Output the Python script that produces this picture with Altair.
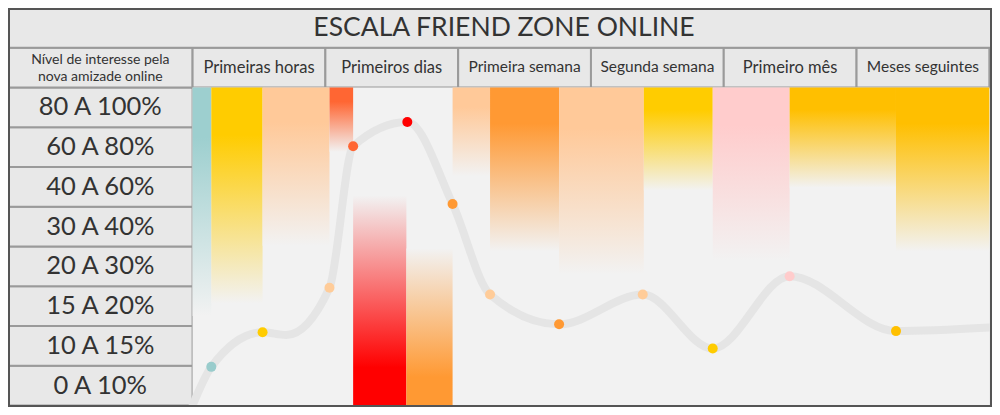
import altair as alt
import pandas as pd

# ---------------- data ----------------
TITLE = "ESCALA FRIEND ZONE ONLINE"
ROW_HEADER = "Nível de interesse pela\nnova amizade online"
PERIODS = ["Primeiras horas", "Primeiros dias", "Primeira semana",
           "Segunda semana", "Primeiro mês", "Meses seguintes"]
# interest levels, bottom row first
LEVELS = ["0 A 10%", "10 A 15%", "15 A 20%", "20 A 30%",
          "30 A 40%", "40 A 60%", "60 A 80%", "80 A 100%"]

# gradient bands (x in period units, reach in level-row units)
BAND_START = [0.0, 0.141, 0.527, 1.031, 1.209, 1.61, 1.958, 2.24, 2.76, 3.398, 3.917, 4.496, 5.297]
BAND_END = [0.141, 0.527, 1.031, 1.209, 1.61, 1.958, 2.24, 2.76, 3.398, 3.917, 4.496, 5.297, 6.0]
BAND_REACH = [2.25, 2.57, 4.02, 6.38, 5.28, 3.95, 5.77, 3.88, 3.30, 5.41, 3.64, 5.48, 3.88]
BAND_FROM = ["top", "top", "top", "top", "bottom", "bottom", "top",
             "top", "top", "top", "top", "top", "top"]
BAND_COLOR = ["#9dcfcf", "#ffcc00", "#ffc999", "#ff6633", "#ff0000", "#ff9933", "#ffc999",
              "#ff9933", "#ffc999", "#ffcc00", "#ffcccc", "#ffbf00", "#ffbf00"]

# dots on the curve
DOT_X = [0.141, 0.527, 1.031, 1.209, 1.617, 1.958, 2.24, 2.76, 3.39, 3.917, 4.496, 5.297]
DOT_Y = [0.97, 1.84, 2.96, 6.52, 7.13, 5.07, 2.79, 2.04, 2.79, 1.43, 3.25, 1.87]
DOT_COLOR = ["#99cccc", "#ffcc00", "#ffcc99", "#ff6633", "#ff0000", "#ff9933",
             "#ffcc99", "#ff9933", "#ffcc99", "#ffcc00", "#ffcccc", "#ffc000"]

# the grey curve
CURVE_X = [0.0, 0.141, 0.527, 0.705, 1.031, 1.209, 1.617, 1.958, 2.24, 2.76, 3.39, 3.917, 4.496, 5.297, 6.0]
CURVE_Y = [0.0, 0.97, 1.84, 1.77, 2.96, 6.52, 7.13, 5.07, 2.79, 2.04, 2.79, 1.43, 3.25, 1.87, 1.96]

# ---------------- layout ----------------
X_MIN, X_MAX = -1.39, 6.02
Y_MIN, Y_MAX = -0.04, 10.0
HEADER_TOP = 9.0
W, H = 984, 399
BG_PLOT = "#f2f2f2"
BG_CELL = "#e8e8e8"
GRID = "#9a9a9a"
TXT = "#333333"
FONT = "Lato"
LONG_HEADERS = [2, 3, 5]  # header cells set in a slightly smaller size

xs = alt.Scale(domain=[X_MIN, X_MAX], nice=False, zero=False)
ys = alt.Scale(domain=[Y_MIN, Y_MAX], nice=False, zero=False)


def X(f):
    return alt.X(f, type="quantitative", scale=xs, axis=None)


def Y(f):
    return alt.Y(f, type="quantitative", scale=ys, axis=None)


def rect_enc(ch):
    return ch.encode(x=X("x0"), x2=alt.X2("x1"), y=Y("y0"), y2=alt.Y2("y1"))


LABEL_CX = (0 - X_MIN) / (X_MAX - X_MIN) * W / 2
HEADER_CY = (Y_MAX - (8.0 + HEADER_TOP) / 2) / (Y_MAX - Y_MIN) * H
TITLE_CY = (Y_MAX - (HEADER_TOP + Y_MAX) / 2) / (Y_MAX - Y_MIN) * H

# plot background
plot_bg = rect_enc(alt.Chart(pd.DataFrame({"x0": [0.0], "x1": [6.0], "y0": [Y_MIN], "y1": [8.0]}))
                   .mark_rect(fill=BG_PLOT, strokeWidth=0))

# table cells
cells = []
for i in range(len(LEVELS)):
    cells.append({"x0": X_MIN, "x1": 0.0, "y0": float(i), "y1": float(i + 1)})
cells.append({"x0": X_MIN, "x1": 0.0, "y0": 8.0, "y1": HEADER_TOP})
for i in range(len(PERIODS)):
    cells.append({"x0": float(i), "x1": float(i + 1), "y0": 8.0, "y1": HEADER_TOP})
cells.append({"x0": X_MIN, "x1": X_MAX, "y0": HEADER_TOP, "y1": Y_MAX})
cell_layer = rect_enc(alt.Chart(pd.DataFrame(cells))
                      .mark_rect(fill=BG_CELL, stroke=GRID, strokeWidth=2))

# gradient bands
bands = pd.DataFrame({
    "idx": list(range(len(BAND_START))),
    "x0": BAND_START, "x1": BAND_END,
    "y0": [8.0 if d == "top" else 0.0 for d in BAND_FROM],
    "y1": BAND_REACH,
})
band_layers = []
for i, c in enumerate(BAND_COLOR):
    if BAND_FROM[i] == "top":
        stops = [{"offset": 0, "color": c}, {"offset": 0.22, "color": c},
                 {"offset": 1, "color": BG_PLOT}]
    else:
        stops = [{"offset": 0, "color": BG_PLOT}, {"offset": 0.82, "color": c},
                 {"offset": 1, "color": c}]
    grad = {"gradient": "linear", "x1": 0, "x2": 0, "y1": 0, "y2": 1, "stops": stops}
    band_layers.append(rect_enc(alt.Chart(bands).transform_filter(alt.datum.idx == i)
                                .mark_rect(fill=grad, strokeWidth=0)))

# curve
curve = alt.Chart(pd.DataFrame({"x": CURVE_X, "y": CURVE_Y})).mark_line(
    interpolate="monotone", stroke="#e5e5e5", strokeWidth=8, strokeCap="round"
).encode(x=X("x"), y=Y("y"), order="x:Q")

dots = alt.Chart(pd.DataFrame({"x": DOT_X, "y": DOT_Y, "c": DOT_COLOR})).mark_circle(
    size=100, opacity=1
).encode(x=X("x"), y=Y("y"), color=alt.Color("c:N", scale=None))

# texts
level_txt = alt.Chart(pd.DataFrame({"t": LEVELS, "y": [i + 0.5 for i in range(len(LEVELS))]})).mark_text(
    font=FONT, fontSize=25.5, color=TXT, align="center", baseline="middle"
).encode(x=alt.value(LABEL_CX), y=Y("y"), text="t:N")

periods_df = pd.DataFrame({"t": PERIODS, "i": list(range(len(PERIODS))),
                           "x": [i + 0.5 for i in range(len(PERIODS))]})
is_long = alt.FieldOneOfPredicate(field="i", oneOf=LONG_HEADERS)
period_txt = alt.Chart(periods_df).transform_filter(~is_long).mark_text(
    font=FONT, fontSize=16.5, color=TXT, align="center", baseline="middle"
).encode(x=X("x"), y=alt.value(HEADER_CY), text="t:N")
period_txt_long = alt.Chart(periods_df).transform_filter(is_long).mark_text(
    font=FONT, fontSize=15.5, color=TXT, align="center", baseline="middle", dy=-1
).encode(x=X("x"), y=alt.value(HEADER_CY), text="t:N")

rowhead_txt = alt.Chart(pd.DataFrame({"t": [ROW_HEADER]})).mark_text(
    font=FONT, fontSize=14, color=TXT, align="center", baseline="middle",
    lineBreak="\n", lineHeight=17, dy=-8
).encode(x=alt.value(LABEL_CX), y=alt.value(HEADER_CY), text="t:N")

title_txt = alt.Chart(pd.DataFrame({"t": [TITLE]})).mark_text(
    font=FONT, fontSize=26.5, color=TXT, align="center", baseline="middle"
).encode(x=alt.value(W / 2 + 4), y=alt.value(TITLE_CY), text="t:N")

# outer frame
frame = rect_enc(alt.Chart(pd.DataFrame({"x0": [X_MIN], "x1": [X_MAX], "y0": [Y_MIN], "y1": [Y_MAX]}))
                 .mark_rect(fillOpacity=0, stroke="#555555", strokeWidth=4))

chart = alt.layer(
    cell_layer, plot_bg, *band_layers, curve, dots,
    level_txt, period_txt, period_txt_long, rowhead_txt, title_txt, frame
).properties(
    width=W, height=H, padding=0,
    autosize=alt.AutoSizeParams(type="none"),
    background=BG_CELL,
).configure_view(strokeWidth=0)

chart.save("out.html", embed_options={"renderer": "svg", "actions": False})
